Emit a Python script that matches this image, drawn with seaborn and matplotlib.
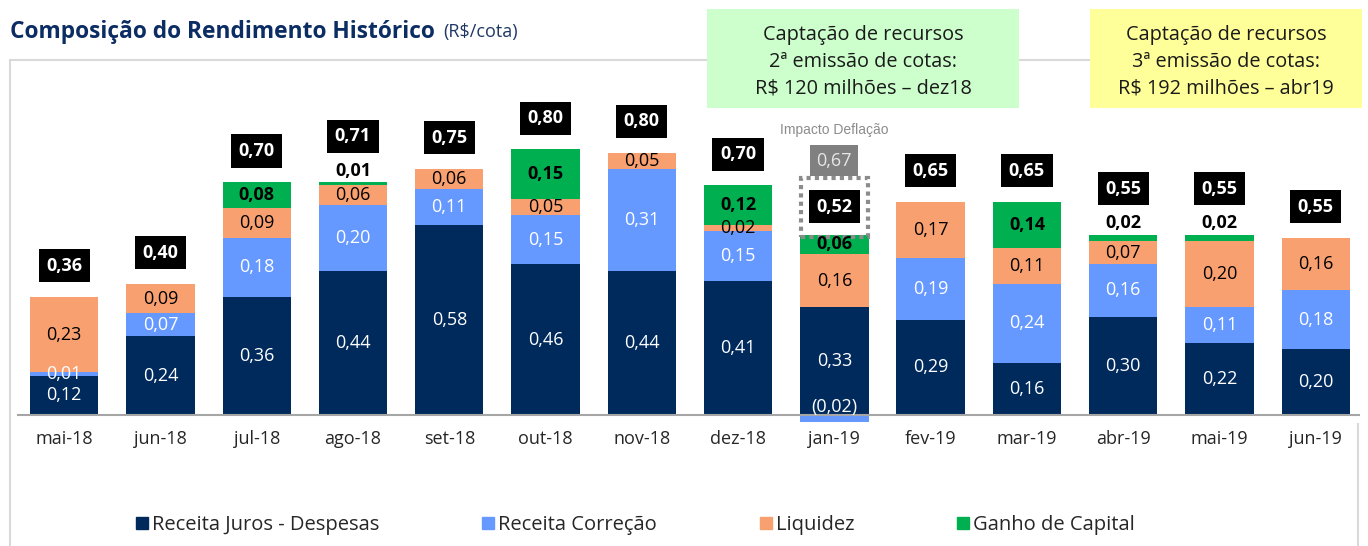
import matplotlib
matplotlib.use("Agg")
import matplotlib.pyplot as plt
import numpy as np
import seaborn as sns
from matplotlib.lines import Line2D
from matplotlib.patches import Rectangle

# data (R$/cota)
months = ["mai-18", "jun-18", "jul-18", "ago-18", "set-18", "out-18", "nov-18",
          "dez-18", "jan-19", "fev-19", "mar-19", "abr-19", "mai-19", "jun-19"]
juros = [0.12, 0.24, 0.36, 0.44, 0.58, 0.46, 0.44, 0.41, 0.33, 0.29, 0.16, 0.30, 0.22, 0.20]
correcao = [0.01, 0.07, 0.18, 0.20, 0.11, 0.15, 0.31, 0.15, -0.02, 0.19, 0.24, 0.16, 0.11, 0.18]
liquidez = [0.23, 0.09, 0.09, 0.06, 0.06, 0.05, 0.05, 0.02, 0.16, 0.17, 0.11, 0.07, 0.20, 0.16]
ganho = [0.00, 0.00, 0.08, 0.01, 0.00, 0.15, 0.00, 0.12, 0.06, 0.00, 0.14, 0.02, 0.02, 0.00]
totais = [0.36, 0.40, 0.70, 0.71, 0.75, 0.80, 0.80, 0.70, 0.52, 0.65, 0.65, 0.55, 0.55, 0.55]
deflacao_mes = "jan-19"
deflacao_total = 0.67

series_names = ["Receita Juros - Despesas", "Receita Correção", "Liquidez", "Ganho de Capital"]
colors = ["#002A5C", "#6699FF", "#F8A070", "#00B050"]

sns.set_theme(style="white")
plt.rcParams["font.family"] = ["Open Sans", "DejaVu Sans"]


def fmt(v):
    s = f"{abs(v):.2f}".replace(".", ",")
    return f"({s})" if v < 0 else s


# stack the positive parts, the negative correction goes below zero
j = np.array(juros)
c = np.array(correcao)
l = np.array(liquidez)
g = np.array(ganho)
c1 = j
c2 = c1 + np.clip(c, 0, None)
c3 = c2 + l
c4 = c3 + g
neg = np.clip(c, None, 0)

fig = plt.figure(figsize=(13.68, 5.46), dpi=100)
ax = fig.add_axes([17 / 1368, 0.2249, 1343 / 1368, 0.6158])

bw = 0.71
for top, col in zip([c4, c3, c2, c1], colors[::-1]):
    sns.barplot(x=months, y=top, color=col, saturation=1, width=bw,
                errorbar=None, ax=ax, linewidth=0)
sns.barplot(x=months, y=neg, color=colors[1], saturation=1, width=bw,
            errorbar=None, ax=ax, linewidth=0)

lab = dict(ha="center", va="center", fontsize=13)
for i, m in enumerate(months):
    ax.text(i, c1[i] / 2, fmt(juros[i]), color="white", **lab)
    if c[i] > 0:
        ax.text(i, (c1[i] + c2[i]) / 2, fmt(c[i]), color="white", **lab)
    elif c[i] < 0:
        ax.text(i, 0.025, fmt(c[i]), color="white", **lab)
    if l[i] > 0:
        ax.text(i, (c2[i] + c3[i]) / 2, fmt(l[i]), color="black", **lab)
    small = 0 < g[i] < 0.03
    if g[i] >= 0.03:
        ax.text(i, (c3[i] + c4[i]) / 2, fmt(g[i]), color="black", fontweight="bold", **lab)
    elif small:
        ax.text(i, c4[i] + 0.035, fmt(g[i]), color="black", fontweight="bold", **lab)

    off = 0.14 if small else 0.095
    if m == deflacao_mes:
        off = 0.085
    ax.text(i, c4[i] + off, fmt(totais[i]), color="white", fontweight="bold",
            bbox=dict(facecolor="black", edgecolor="none", boxstyle="square,pad=0.42"), **lab)

    if m == deflacao_mes:
        ytop = c4[i] + off
        ax.add_patch(Rectangle((i - 0.35, ytop - 0.092), 0.70, 0.18, fill=False,
                               edgecolor="#8C8C8C", linewidth=3, linestyle=(0, (1, 1))))
        ax.text(i, ytop + 0.14, fmt(deflacao_total), color="#E6E6E6",
                bbox=dict(facecolor="#808080", edgecolor="none", boxstyle="square,pad=0.35"), **lab)
        ax.text(i, ytop + 0.235, "Impacto Deflação", ha="center", va="center",
                fontsize=10, color="#8C8C8C", family=["Liberation Sans", "DejaVu Sans"])

ax.axhline(0, color="#A6A6A6", lw=1.5)
ax.set_xlim(-0.49, 13.46)
ax.set_ylim(-0.025, 1.0)
ax.set_yticks([])
ax.set_ylabel("")
ax.tick_params(axis="x", length=0, pad=5, labelsize=13)
for s in ax.spines.values():
    s.set_visible(False)

# panel frame
fig.add_artist(Rectangle((10 / 1368, -0.05), 1348 / 1368, 0.94, transform=fig.transFigure,
                         fill=False, edgecolor="#D9D9D9", linewidth=1.5, zorder=0))

# title
fig.text(10 / 1368, 1 - 32 / 546, "Composição do Rendimento Histórico", fontsize=16.4,
         fontweight="bold", color="#0B2D63", va="center")
fig.text(443 / 1368, 1 - 32 / 546, "(R$/cota)", fontsize=13, color="#1F3864", va="center")

# captação boxes
notes = [
    ((707, 1019), "#CCFFCC", "Captação de recursos\n2ª emissão de cotas:\nR$ 120 milhões – dez18"),
    ((1090, 1362), "#FFFF99", "Captação de recursos\n3ª emissão de cotas:\nR$ 192 milhões – abr19"),
]
for (x0, x1), fc, txt in notes:
    fig.add_artist(Rectangle((x0 / 1368, 1 - 108 / 546), (x1 - x0) / 1368, 99 / 546,
                             transform=fig.transFigure, facecolor=fc, edgecolor="none", zorder=2))
    fig.text((x0 + x1) / 2 / 1368, 1 - 62 / 546, txt, ha="center", va="center",
             fontsize=14.3, color="#1A1A1A", linespacing=1.45, zorder=3)

handles = [Line2D([], [], marker="s", ls="", color=col, markersize=9) for col in colors]
fig.legend(handles, series_names, loc="center left", bbox_to_anchor=(116 / 1368, 1 - 525 / 546),
           ncol=4, frameon=False, fontsize=14.5, handletextpad=0.1, columnspacing=5.0,
           handlelength=0.8)

fig.savefig("out.png", dpi=100)
